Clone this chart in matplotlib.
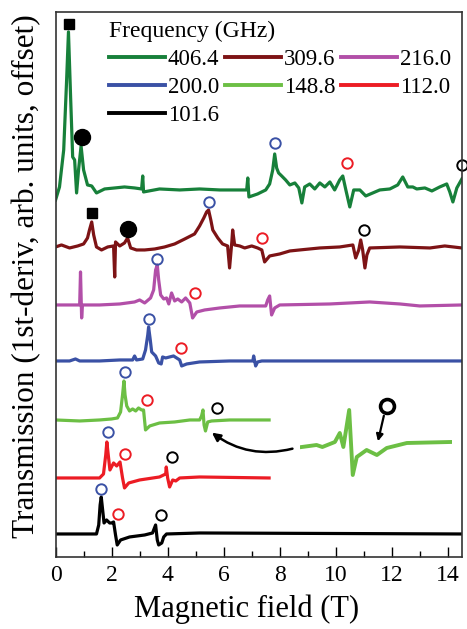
import matplotlib
matplotlib.use("Agg")
import matplotlib.pyplot as plt
from matplotlib.ticker import MultipleLocator

plt.rcParams['font.family'] = ['Liberation Serif', 'DejaVu Serif']
plt.rcParams['mathtext.fontset'] = 'stix'

# frequencies (GHz), colours and vertical offsets of each trace
freqs = ["406.4", "309.6", "216.0", "200.0", "148.8", "112.0", "101.6"]
colors = ["#17803a", "#7d1315", "#b24fa8", "#3a51a5", "#6cbf44", "#ec1c24", "#000000"]
offsets = [367, 309, 252, 196, 137, 79, 23]

# traces: field (T) and signal (arb. units, relative to baseline)
b_406 = [0.00, 0.14, 0.29, 0.39, 0.46, 0.54, 0.61, 0.68, 0.75, 0.82, 0.91, 1.00, 1.14, 1.29,
         1.46, 1.75, 2.11, 2.46, 2.82, 3.07, 3.11, 3.14, 3.71, 4.43, 5.14, 5.86, 6.57, 6.82,
         6.86, 6.90, 7.21, 7.50, 7.64, 7.75, 7.82, 7.89, 7.96, 8.07, 8.21, 8.36, 8.54, 8.68,
         8.79, 8.89, 9.07, 9.25, 9.43, 9.61, 9.79, 9.96, 10.14, 10.25, 10.36, 10.50, 10.64,
         10.86, 11.07, 11.32, 11.57, 11.93, 12.21, 12.39, 12.57, 12.75, 12.89, 13.18, 13.43,
         13.71, 13.96, 14.07, 14.18, 14.32, 14.50]
s_406 = [-10, 3, 40, 107, 158, 90, 33, 30, -3, 20, 44, 20, 5, 4,
         -3, 1, 2, 3, 2, 1, 14, -2, 1, 0, 1, 0, 0, 0,
         12, -7, -4, 0, 6, 20, 36, 22, 17, 14, 10, 5, 7, 2,
         -13, 3, 6, 1, 7, 3, 8, 0, 10, 14, 0, -17, 0,
         0, -6, -3, 0, 1, 5, 13, 3, 3, 1, 2, -1,
         3, 6, -2, -12, 2, 11]

b_309 = [0.00, 0.21, 0.50, 0.79, 1.00, 1.14, 1.21, 1.29, 1.36, 1.46, 1.64, 1.86, 2.07, 2.11,
         2.14, 2.29, 2.46, 2.57, 2.68, 2.89, 3.18, 3.54, 3.89, 4.25, 4.61, 4.96, 5.14, 5.29,
         5.39, 5.46, 5.54, 5.61, 5.79, 5.96, 6.14, 6.21, 6.29, 6.32, 6.39, 6.57, 6.75, 7.00,
         7.21, 7.36, 7.46, 7.64, 8.00, 8.36, 8.71, 9.43, 10.14, 10.61, 10.71, 10.82, 10.89,
         10.96, 11.04, 11.11, 11.21, 12.29, 13.36, 13.89, 14.50]
s_309 = [1, 3, 0, 2, 4, 10, 18, 26, 13, 1, -2, 1, 2, -29,
         6, 2, 5, 10, 0, -2, -2, -1, 1, 4, 9, 14, 22, 30,
         36, 38, 28, 18, 10, 4, 2, -20, 6, 18, 3, 2, 0, 2,
         0, -2, -14, -8, -6, -3, -2, 0, 1, 3, -10, -2, 8,
         -2, -20, -7, 0, 1, 0, 2, 0]

b_216 = [0.00, 0.50, 0.86, 0.89, 0.93, 0.96, 1.57, 2.29, 2.82, 3.00, 3.18, 3.39, 3.50, 3.57,
         3.63, 3.68, 3.75, 3.86, 3.96, 4.04, 4.14, 4.25, 4.36, 4.50, 4.64, 4.79, 4.89, 5.04,
         5.32, 5.86, 6.57, 7.50, 7.57, 7.64, 7.71, 7.82, 8.00, 9.79, 11.21, 12.29, 13.00, 14.50]
s_216 = [0, 0, 0, 33, -13, 0, 0, 1, 3, 5, 2, 7, 15, 35,
         40, 25, 10, 6, 7, 1, 12, 4, 6, 3, 7, 2, -13, -7,
         -5, -3, -1, -1, 5, 9, -10, -3, 0, 1, 3, 1, -1, 0]

b_200 = [0.00, 0.50, 0.71, 0.86, 1.57, 2.29, 2.75, 2.82, 2.89, 3.11, 3.21, 3.29, 3.32, 3.38,
         3.43, 3.57, 3.68, 3.77, 3.82, 3.93, 4.07, 4.21, 4.32, 4.43, 4.50, 4.68, 5.14, 6.21,
         7.04, 7.07, 7.14, 7.21, 7.36, 14.50]
s_200 = [0, 0, 2, 0, 0, 1, 1, 5, 1, 2, 11, 26, 34, 21,
         9, 5, -2, -3, 4, 3, 4, 5, 3, 1, -5, -3, -1, 0,
         0, 5, -5, -1, 0, 0]

b_148 = [0.00, 0.86, 1.57, 2.00, 2.21, 2.32, 2.39, 2.44, 2.48, 2.54, 2.64, 2.75, 2.86, 2.96,
         3.07, 3.14, 3.21, 3.36, 3.71, 4.25, 4.79, 5.14, 5.21, 5.26, 5.30, 5.35, 5.43, 5.57,
         6.21, 7.62]
s_148 = [0, -1, 0, 1, 2, 8, 25, 39, 25, 14, 9, 11, 9, 12,
         10, 10, -10, -6, -3, -2, 0, 0, 4, 10, -5, -11, -2, -1,
         0, 0]

b_112 = [0.00, 0.86, 1.57, 1.71, 1.79, 1.83, 1.88, 1.94, 2.07, 2.18, 2.30, 2.39, 2.46, 2.61,
         3.00, 3.71, 3.93, 3.95, 4.00, 4.07, 4.18, 4.29, 4.43, 5.14, 7.62]
s_112 = [0, 0, 0, 4, 23, 36, 23, 8, 15, 12, 16, 0, -10, -5,
         -2, 1, 4, 11, 0, -9, -2, -3, 0, 1, 0]

b_101 = [0.00, 0.86, 1.46, 1.54, 1.59, 1.63, 1.68, 1.73, 1.82, 1.93, 2.00, 2.07, 2.14, 2.20,
         2.32, 2.64, 3.18, 3.46, 3.57, 3.63, 3.68, 3.79, 3.86, 3.96, 5.14, 14.50]
s_101 = [0, 0, 0, 9, 29, 37, 24, 11, 14, 11, 11, 12, -1, -11,
         -6, -3, -1, 1, 9, -6, -11, -9, -3, 0, 1, 0]

fields = [b_406, b_309, b_216, b_200, b_148, b_112, b_101]
signals = [s_406, s_309, s_216, s_200, s_148, s_112, s_101]

# assigned resonances: field (T) and marker height above the baseline
sq_field = [0.475, 1.29]
sq_height = [166, 35]
dot_field = [0.95, 2.58]
dot_height = [53, 19]
blue_field = [7.83, 5.475, 3.63, 3.32, 2.46, 1.87, 1.63]
blue_height = [47, 46, 46, 42, 48, 46, 45]
red_field = [10.39, 7.36, 4.96, 4.49, 3.275, 2.46, 2.225]
red_height = [27, 10, 12, 13, 20, 24, 20]
black_field = [14.5, 11.0, None, None, 5.76, 4.17, 3.775]
black_height = [25, 18, None, None, 12, 21, 19]

# zoomed view of the 148.8 GHz trace around 5.3 T
inset_field = [4.24, 4.57, 4.70, 4.98, 5.09, 5.17, 5.30, 5.38, 5.47, 5.69, 5.92, 6.14, 6.59, 7.56]
inset_signal = [0, 2, 0, 5, 14, 0, 37, -28, -10, -3, -8, -1, 4, 5]

fig = plt.figure(figsize=(4.67, 6.29), dpi=100)
ax = fig.add_axes([0.119, 0.1145, 0.870, 0.8665])

lines = []
for i in range(len(freqs)):
    y = [v + offsets[i] for v in signals[i]]
    ln, = ax.plot(fields[i], y, color=colors[i], lw=2.3, label=freqs[i], solid_joinstyle='round')
    lines.append(ln)

for i in range(len(sq_field)):
    ax.plot(sq_field[i], offsets[i] + sq_height[i], 's', color='black', ms=7.5)
    ax.plot(dot_field[i], offsets[i] + dot_height[i], 'o', color='black', ms=11.5)
for i in range(len(freqs)):
    ax.plot(blue_field[i], offsets[i] + blue_height[i], 'o', mfc='none', mec='#3a51a5',
            ms=7.5, mew=1.4, clip_on=False)
    ax.plot(red_field[i], offsets[i] + red_height[i], 'o', mfc='none', mec='#ec1c24',
            ms=7.5, mew=1.4, clip_on=False)
    if black_field[i] is not None:
        ax.plot(black_field[i], offsets[i] + black_height[i], 'o', mfc='none', mec='black',
                ms=7.5, mew=1.4, clip_on=False)

ax.set_xlim(0, 14.5)
ax.set_ylim(0, 545)
ax.xaxis.set_major_locator(MultipleLocator(2))
ax.xaxis.set_minor_locator(MultipleLocator(1))
ax.tick_params(axis='x', which='both', direction='in', top=False, labelsize=17, pad=6)
ax.tick_params(axis='x', which='major', length=7, width=1.0)
ax.tick_params(axis='x', which='minor', length=4, width=1.0)
ax.set_yticks([])
for sp in ax.spines.values():
    sp.set_linewidth(1.2)
    sp.set_color('#333333')

ax.set_xlabel("Magnetic field (T)", fontsize=22)
ax.xaxis.set_label_coords(0.47, -0.068)
ax.set_ylabel("Transmission (1st-deriv, arb. units, offset)", fontsize=22.5)
ax.yaxis.set_label_coords(-0.036, 0.515)

# legend filled row by row, as in the figure
order = [0, 3, 6, 1, 4, 2, 5]
leg = ax.legend([lines[k] for k in order], [freqs[k] for k in order], ncol=3,
                loc='upper left', bbox_to_anchor=(0.08, 1.022), frameon=False,
                fontsize=16.5, handlelength=2.45, handletextpad=0.12, columnspacing=0.25,
                labelspacing=0.3, title="Frequency (GHz)", title_fontsize=17)
leg._legend_box.align = "left"
for h in leg.legend_handles:
    h.set_linewidth(2.8)

# inset: magnified 148.8 GHz feature
axi = fig.add_axes([300 / 467, 1 - 480 / 629, 152 / 467, 80 / 629])
axi.plot(inset_field, inset_signal, color='#6cbf44', lw=2.8)
axi.set_xlim(4.2, 7.6)
axi.set_ylim(-33, 47)
axi.axis('off')
axi.plot(6.14, 41, 'o', mfc='none', mec='black', ms=10, mew=2.6, clip_on=False)
axi.annotate("", xy=(5.93, 3), xytext=(6.09, 34),
             arrowprops=dict(arrowstyle='-|>', color='black', lw=1.6, mutation_scale=10))

ax.annotate("", xy=(5.5, 126), xytext=(8.55, 109),
            arrowprops=dict(arrowstyle='-|>', color='black', lw=1.8, mutation_scale=12,
                            connectionstyle="arc3,rad=-0.25"))

fig.savefig("out.png", dpi=100)
